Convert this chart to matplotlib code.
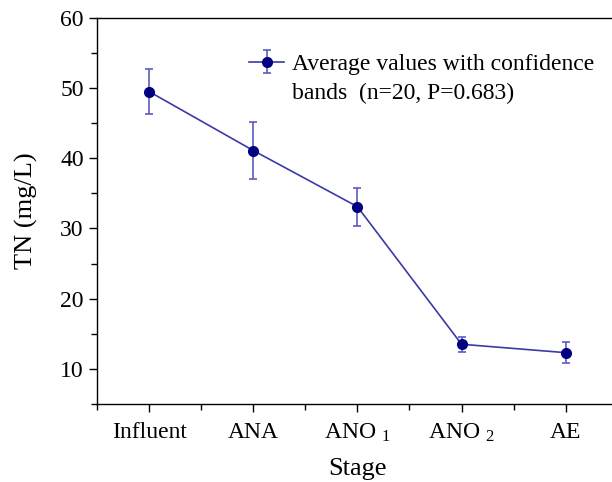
import matplotlib
matplotlib.use("Agg")
import matplotlib.pyplot as plt
from matplotlib.ticker import MultipleLocator

plt.rcParams['font.family'] = ['Liberation Serif', 'DejaVu Serif']
plt.rcParams['mathtext.fontset'] = 'custom'
plt.rcParams['mathtext.rm'] = 'Liberation Serif'
plt.rcParams['mathtext.it'] = 'Liberation Serif:italic'

stages = ['Influent', 'ANA', r'ANO$\ _{1}$', r'ANO$\ _{2}$', 'AE']
tn_mean = [49.5, 41.1, 33.1, 13.5, 12.3]
tn_err = [3.2, 4.1, 2.7, 1.1, 1.5]

fig = plt.figure(figsize=(6.12, 4.82), dpi=100)
ax = fig.add_axes([0.1585, 0.162, 0.851, 0.801])

x = list(range(len(stages)))
eb = ax.errorbar(x, tn_mean, yerr=tn_err, color='#3a3aa8', lw=1.2,
                 marker='o', ms=7, mfc='#000080', mec='#000080',
                 ecolor='#5c5cbf', elinewidth=1.2, capsize=3, capthick=1.2,
                 label='Average values with confidence')
blank, = ax.plot([], [], color='none', label='bands  (n=20, P=0.683)')

ax.set_xlim(-0.5, 4.5)
ax.set_ylim(5, 60)
ax.set_xticks(x)
ax.set_xticklabels(stages)
ax.xaxis.set_minor_locator(MultipleLocator(0.5))
ax.yaxis.set_minor_locator(MultipleLocator(5))
ax.set_yticks([10, 20, 30, 40, 50, 60])

ax.tick_params(axis='both', which='major', length=6, width=1, labelsize=17, direction='out')
ax.tick_params(axis='both', which='minor', length=4, width=1, direction='out')
ax.tick_params(axis='x', which='major', pad=7)
ax.spines['right'].set_visible(False)
for s in ['left', 'bottom', 'top']:
    ax.spines[s].set_linewidth(1)

ax.set_xlabel('Stage', fontsize=19, labelpad=10)
ax.set_ylabel('TN (mg/L)', fontsize=19, labelpad=16)

ax.legend(handles=[eb, blank], loc='upper left', bbox_to_anchor=(0.292, 0.908),
          frameon=False, fontsize=17, borderpad=0, borderaxespad=0,
          handlelength=1.5, handletextpad=0.3, labelspacing=0.33)

fig.savefig('out.png', dpi=100)
